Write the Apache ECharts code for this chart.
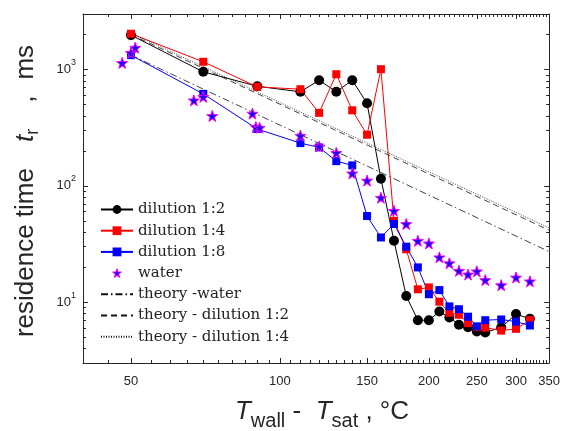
<!DOCTYPE html>
<html><head><meta charset="utf-8">
<script src="https://cdn.jsdelivr.net/npm/echarts@6/dist/echarts.min.js"></script>
<style>html,body{margin:0;padding:0;background:#fff}#c{width:563px;height:431px}</style>
</head><body><div id="c"></div>
<script>
// ---- data ----
const tempDilution = [50,70,90,110,120,130,140,150,160,170,180,190,200,210,220,230,240,250,260,280,300,320];
const dilution12 = [1975,955,718,643,809,643,809,512,115,33.7,11.3,7.0,7.0,8.3,7.4,6.4,6.1,5.6,5.5,6.05,7.9,7.2];
const dilution14 = [2030,1165,709,677,424,911,446,275,1006,50,28.5,12.9,13.4,10.1,8.1,7.8,6.6,6.1,6.05,5.7,5.9,7.0];
const dilution18 = [1328,617,308,233,214,163,150,55,36,47,30,19.9,11.7,12.7,9.2,8.7,7.5,6.2,7.0,7.1,6.8,6.3];
const tempWater = [48,50,51,67,70,73,88,89.4,91,110,120,130,140,150,160,170,180,190,200,210,220,230,240,250,260,280,300,320];
const water = [1140,1390,1540,543,582,399,418,320,316,270,218,192,128,111,79,61,47,33.7,32,24.3,21.6,18.6,17.3,18.4,15.5,14,16.3,15.1];
const tempTheory = [50,350];
const theoryWater = [1330,27.2];
const theory12 = [2000,41.5];
const theory14 = [2060,43.5];
const seriesNames = ['dilution 1:2','dilution 1:4','dilution 1:8','water','theory -water','theory - dilution 1:2','theory - dilution 1:4'];
const xMajorTicks = [50,100,150,200,250,300,350];
const xMinorTicks = [40,45,55,60,65,70,75,80,85,90,95,105,110,115,120,125,130,135,140,145,155,160,165,170,175,180,185,190,195,205,210,215,220,225,230,235,240,245,255,260,265,270,275,280,285,290,295,305,310,315,320,325,330,335,340,345];
const yMajorTicks = [10,100,1000];
const yMinorTicks = [3,4,5,6,7,8,9,20,30,40,50,60,70,80,90,200,300,400,500,600,700,800,900,2000,3000];
const xRange = [40,350];
const yRange = [3,3000];

// ---- chart ----
const axisColor = '#262626';
const lg = v => Math.log10(v);
const pair = (xs, ys) => xs.map((x, i) => [x, ys[i]]);
const starPath = 'path://M0,-10L2.35,-3.24L9.51,-3.09L3.8,1.24L5.88,8.09L0,4L-5.88,8.09L-3.8,1.24L-9.51,-3.09L-2.35,-3.24Z';

function tickX(position, ticks, len, withLabels, withLine) {
  return {
    type: 'value', gridIndex: 0, position: position,
    min: lg(xRange[0]), max: lg(xRange[1]),
    axisLine: {show: withLine, onZero: false, lineStyle: {color: axisColor, width: 1}},
    axisTick: {show: true, inside: true, length: len, customValues: ticks.map(lg), lineStyle: {color: axisColor, width: 1}},
    axisLabel: withLabels ? {
      show: true, customValues: ticks.map(lg), margin: 12,
      formatter: v => String(Math.round(Math.pow(10, v))),
      color: axisColor, fontFamily: 'Liberation Sans', fontSize: 13
    } : {show: false},
    splitLine: {show: false}
  };
}
function tickY(position, ticks, len, withLabels, withLine) {
  return {
    type: 'value', gridIndex: 0, position: position,
    min: lg(yRange[0]), max: lg(yRange[1]),
    axisLine: {show: withLine, onZero: false, lineStyle: {color: axisColor, width: 1}},
    axisTick: {show: true, inside: true, length: len, customValues: ticks.map(lg), lineStyle: {color: axisColor, width: 1}},
    axisLabel: withLabels ? {
      show: true, customValues: ticks.map(lg), margin: 7,
      formatter: v => '{b|10}{s|' + Math.round(v) + '}',
      rich: {
        b: {fontSize: 13, fontFamily: 'Liberation Sans', color: axisColor},
        s: {fontSize: 9, lineHeight: 9, fontFamily: 'Liberation Sans', color: axisColor, padding: [0, 0, 14, 0]}
      }
    } : {show: false},
    splitLine: {show: false}
  };
}

const chart = echarts.init(document.getElementById('c'), null, {renderer: 'canvas'});
const option = {
  backgroundColor: '#fff',
  animation: false,
  grid: {left: 83, right: 12, top: 14, bottom: 68, containLabel: false},
  xAxis: [
    {type: 'log', logBase: 10, min: xRange[0], max: xRange[1], show: false},
    tickX('bottom', xMajorTicks, 5, true, true),
    tickX('bottom', xMinorTicks, 3, false, false),
    tickX('top', xMajorTicks, 5, false, true),
    tickX('top', xMinorTicks, 3, false, false)
  ],
  yAxis: [
    {type: 'log', logBase: 10, min: yRange[0], max: yRange[1], show: false},
    tickY('left', yMajorTicks, 5, true, true),
    tickY('left', yMinorTicks, 3, false, false),
    tickY('right', yMajorTicks, 5, false, true),
    tickY('right', yMinorTicks, 3, false, false)
  ],
  legend: {
    orient: 'vertical', left: 100, top: 202, padding: 0,
    itemWidth: 32, itemHeight: 11, itemGap: 6.2,
    textStyle: {fontFamily: 'DejaVu Serif', fontSize: 15, color: '#222', lineHeight: 15},
    data: seriesNames.map((n, i) => i >= 4 ? {name: n, itemStyle: {opacity: 0}}
      : (i === 3 ? {name: n, itemStyle: {borderWidth: 1}} : {name: n}))
  },
  series: [
    {name: seriesNames[0], type: 'line', xAxisIndex: 0, yAxisIndex: 0, data: pair(tempDilution, dilution12),
     symbol: 'circle', symbolSize: 10, lineStyle: {color: '#000', width: 1}, itemStyle: {color: '#000'}},
    {name: seriesNames[1], type: 'line', xAxisIndex: 0, yAxisIndex: 0, data: pair(tempDilution, dilution14),
     symbol: 'rect', symbolSize: 8, lineStyle: {color: '#ff0000', width: 1}, itemStyle: {color: '#ff0000'}},
    {name: seriesNames[2], type: 'line', xAxisIndex: 0, yAxisIndex: 0, data: pair(tempDilution, dilution18),
     symbol: 'rect', symbolSize: 8, lineStyle: {color: '#0000ff', width: 1}, itemStyle: {color: '#0000ff'}},
    {name: seriesNames[3], type: 'line', xAxisIndex: 0, yAxisIndex: 0, data: pair(tempWater, water),
     symbol: starPath, symbolSize: 11, lineStyle: {width: 0, opacity: 0},
     itemStyle: {color: '#2000f0', borderColor: '#ff00ff', borderWidth: 1}},
    {name: seriesNames[4], type: 'line', xAxisIndex: 0, yAxisIndex: 0, data: pair(tempTheory, theoryWater),
     symbol: 'none', lineStyle: {color: '#111', width: 0.8, type: [7, 3, 1.5, 3]}, itemStyle: {color: '#111', opacity: 0}},
    {name: seriesNames[5], type: 'line', xAxisIndex: 0, yAxisIndex: 0, data: pair(tempTheory, theory12),
     symbol: 'none', lineStyle: {color: '#111', width: 0.8, type: [6, 4]}, itemStyle: {color: '#111', opacity: 0}},
    {name: seriesNames[6], type: 'line', xAxisIndex: 0, yAxisIndex: 0, data: pair(tempTheory, theory14),
     symbol: 'none', lineStyle: {color: '#111', width: 0.8, type: [1, 1.5]}, itemStyle: {color: '#111', opacity: 0}}
  ],
  graphic: [
    {type: 'text', x: 322, y: 412, silent: true, style: {
      text: '{i|T}{s|wall}{n| -  }{i|T}{s|sat}{n| , °C}',
      align: 'center', verticalAlign: 'middle',
      rich: {
        i: {fontSize: 26, fontStyle: 'italic', fontFamily: 'Liberation Sans', fill: axisColor, color: axisColor},
        n: {fontSize: 26, fontFamily: 'Liberation Sans', fill: axisColor, color: axisColor},
        s: {fontSize: 20, fontFamily: 'Liberation Sans', fill: axisColor, color: axisColor, padding: [18, 0, 0, 0]}
      }
    }},
    {type: 'text', x: 26, y: 191, rotation: Math.PI / 2, silent: true, style: {
      text: '{n|residence time}{g|}{i|t}{s|r}{g2|}{n|,}{g3|}{n|ms}',
      align: 'center', verticalAlign: 'middle',
      rich: {
        i: {fontSize: 26, fontStyle: 'italic', fontFamily: 'Liberation Sans', fill: axisColor, color: axisColor},
        n: {fontSize: 26, fontFamily: 'Liberation Sans', fill: axisColor, color: axisColor},
        g: {width: 26, fontSize: 26},
        g2: {width: 26, fontSize: 26},
        g3: {width: 16, fontSize: 26},
        s: {fontSize: 18, fontFamily: 'Liberation Sans', fill: axisColor, color: axisColor, padding: [14, 0, 0, 0]}
      }
    }}
  ]
};
chart.setOption(option);
</script>
</body></html>
